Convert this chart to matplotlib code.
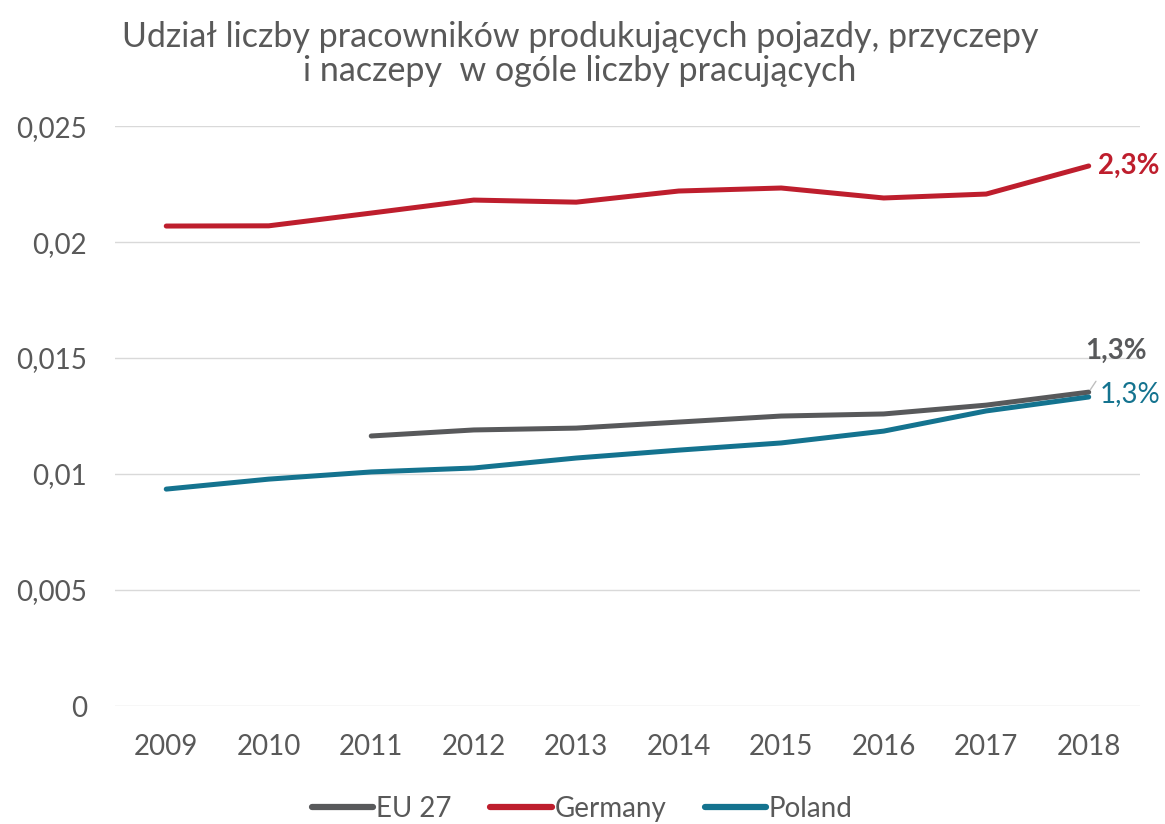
import numpy as np
import matplotlib.pyplot as plt

plt.rcParams['font.family'] = ['Lato', 'DejaVu Sans']

years = [2009, 2010, 2011, 2012, 2013, 2014, 2015, 2016, 2017, 2018]
eu27 = [np.nan, np.nan, 0.01164, 0.0119, 0.01198, 0.01224, 0.0125, 0.01259, 0.01297, 0.01353]
germany = [0.02069, 0.0207, 0.02125, 0.02181, 0.02172, 0.0222, 0.02233, 0.0219, 0.02207, 0.02328]
poland = [0.00935, 0.00978, 0.01009, 0.01026, 0.01069, 0.01103, 0.01134, 0.01185, 0.01272, 0.01332]

c_eu = '#58595B'
c_de = '#BE1E2D'
c_pl = '#14738F'
c_txt = '#595959'

fig = plt.figure(figsize=(11.65, 8.24), dpi=100)
ax = fig.add_axes([0.0987, 0.1432, 0.8798, 0.7038])

ax.plot(years, eu27, color=c_eu, lw=3.6, solid_capstyle='round', label='EU 27')
ax.plot(years, germany, color=c_de, lw=3.6, solid_capstyle='round', label='Germany')
ax.plot(years, poland, color=c_pl, lw=3.6, solid_capstyle='round', label='Poland')

ax.set_xlim(2008.5, 2018.5)
ax.set_ylim(0, 0.025)
ax.set_xticks(years)
ax.set_yticks([0, 0.005, 0.01, 0.015, 0.02, 0.025])
ax.set_yticklabels(['0', '0,005', '0,01', '0,015', '0,02', '0,025'])
ax.tick_params(colors=c_txt, labelsize=20, length=0)
ax.tick_params(axis='x', pad=20)
ax.tick_params(axis='y', pad=20)
ax.grid(axis='y', color='#D9D9D9', lw=1)
ax.set_axisbelow(True)
for s in ax.spines.values():
    s.set_visible(False)

# end labels
ax.annotate('2,3%', (years[-1], germany[-1]), xytext=(7, 0), textcoords='offset points',
            color=c_de, fontsize=20, fontweight='bold', va='center', ha='left',
            annotation_clip=False)
ax.annotate('1,3%', (years[-1], eu27[-1]), xytext=(20, 30), textcoords='offset points',
            color=c_eu, fontsize=20, fontweight='bold', va='center', ha='center',
            annotation_clip=False,
            arrowprops=dict(arrowstyle='-', color='#BFBFBF', lw=1, shrinkA=13, shrinkB=2))
ax.annotate('1,3%', (years[-1], poland[-1]), xytext=(8, 2), textcoords='offset points',
            color=c_pl, fontsize=20, va='center', ha='left', annotation_clip=False)

fig.suptitle('Udział liczby pracowników produkujących pojazdy, przyczepy\ni naczepy  w ogóle liczby pracujących',
             x=0.498, y=0.974, fontsize=24.5, color=c_txt, linespacing=1.05)

leg = fig.legend(loc='lower center', bbox_to_anchor=(0.5, -0.028), ncol=3, frameon=False,
                 fontsize=20, handlelength=2.2, handletextpad=0.1, columnspacing=1.4)
for t in leg.get_texts():
    t.set_color(c_txt)
for h in leg.get_lines():
    h.set_linewidth(4.5)

fig.savefig('out.png', dpi=100)
